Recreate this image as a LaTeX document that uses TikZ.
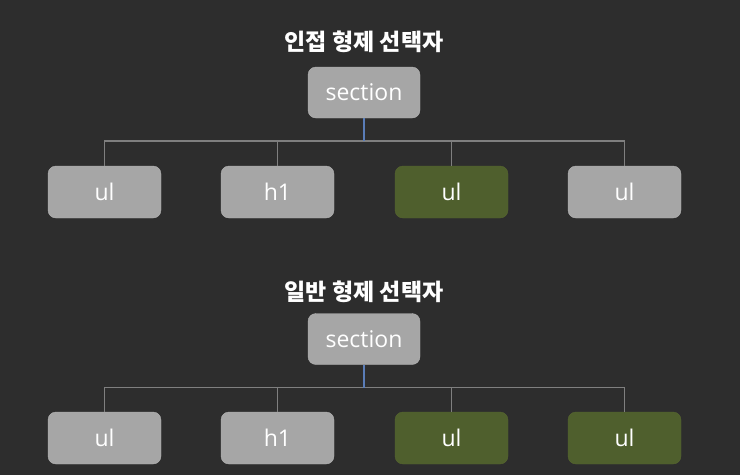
\documentclass[tikz,border=0pt]{standalone}
\usepackage{fontspec}
\setmainfont{Open Sans}
\newfontfamily\krfont{Noto Sans CJK KR}
\begin{document}
\begin{tikzpicture}[x=1pt,y=-1pt,
  box/.style={draw=boxedge,fill=boxgray,rounded corners=8pt,minimum width=113pt,minimum height=52pt,inner sep=0pt,text=white,font=\fontsize{23}{26}\selectfont},
  gbox/.style={box,draw=greenedge,fill=boxgreen},
  title/.style={text=white,font=\krfont\bfseries\fontsize{23}{26}\selectfont},
  conn/.style={draw=linegray,line width=1.5pt},
  stem/.style={draw=stemblue,line width=1.5pt}]
\definecolor{bg}{HTML}{2D2D2D}
\definecolor{boxgray}{HTML}{A6A6A6}
\definecolor{boxedge}{HTML}{B2B2B2}
\definecolor{boxgreen}{HTML}{4F5F2D}
\definecolor{greenedge}{HTML}{56652F}
\definecolor{linegray}{HTML}{7F7F7F}
\definecolor{stemblue}{HTML}{5A7DB8}
\fill[bg] (0,0) rectangle (740,475);
\useasboundingbox (0,0) rectangle (740,475);
% top
\node[title] (t1) at (364,42) {인접 형제 선택자};
\node[box,minimum width=112pt,minimum height=51pt] (s1) at (364,92.5) {section};
\coordinate (j1) at (364,141);
\node[box] (a1) at (104.5,192) {ul};
\node[box] (a2) at (277.5,192) {h1};
\node[gbox] (a3) at (451.5,192) {ul};
\node[box] (a4) at (624.5,192) {ul};
\draw[conn] (a1.north) |- (j1);
\draw[conn] (a4.north) |- (j1);
\draw[conn] (a2.north) -- (a2.north |- j1);
\draw[conn] (a3.north) -- (a3.north |- j1);
\draw[stem] (s1.south) -- (j1);
% bottom
\node[title] (t2) at (364,292) {일반 형제 선택자};
\node[box,minimum width=112pt,minimum height=51pt] (s2) at (364,339) {section};
\coordinate (j2) at (364,387.5);
\node[box] (b1) at (104.5,438) {ul};
\node[box] (b2) at (277.5,438) {h1};
\node[gbox] (b3) at (451.5,438) {ul};
\node[gbox] (b4) at (624.5,438) {ul};
\draw[conn] (b1.north) |- (j2);
\draw[conn] (b4.north) |- (j2);
\draw[conn] (b2.north) -- (b2.north |- j2);
\draw[conn] (b3.north) -- (b3.north |- j2);
\draw[stem] (s2.south) -- (j2);
\end{tikzpicture}
\end{document}
